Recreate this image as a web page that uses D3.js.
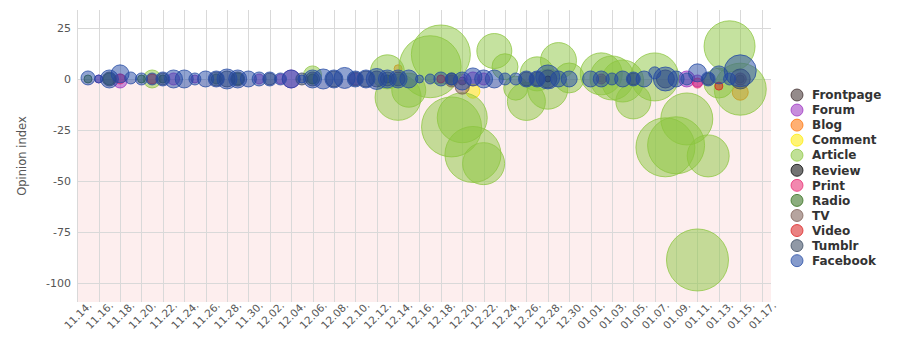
<!DOCTYPE html>
<html>
<head>
<meta charset="utf-8">
<script src="https://cdn.jsdelivr.net/npm/d3@7"></script>
<style>
  body { margin: 0; background: #fff; font-family: "DejaVu Sans", sans-serif; }
</style>
</head>
<body>
<svg id="chart" width="900" height="360"></svg>
<script>
// Channel names and their colours (legend order = drawing order)
const categories = ['Frontpage', 'Forum', 'Blog', 'Comment', 'Article', 'Review',
                    'Print', 'Radio', 'TV', 'Video', 'Tumblr', 'Facebook'];
const colors = ['#3d2b2b', '#9a2fc0', '#ff6f00', '#ffeb00', '#8cc63f', '#000000',
                '#e8266e', '#2d6a14', '#7a5a50', '#d91c1c', '#35465c', '#2248a3'];

// Each entry: [day "MM.DD", opinion index, mentions]
const frontpage = [["12.20", -1, 16], ["01.02", 0, 9], ["01.15", 0, 16]];
const forum = [["11.16", 0, 16], ["11.18", -1, 49], ["11.23", 0, 36], ["11.25", 0, 16],
               ["12.01", 0, 25], ["12.03", 0, 25], ["12.04", 0, 81], ["12.10", 0, 36],
               ["12.20", 0, 25], ["12.21", 0, 49], ["12.22", 0, 36], ["01.10", 0, 64],
               ["01.11", -1, 36]];
const blog = [["12.14", 5, 16], ["01.15", -6.5, 64]];
const comment = [["12.21", -6, 49]];
const article = [["11.21", 0, 81], ["12.06", 2, 81], ["12.13", 3.5, 289], ["12.14", -9, 529],
                 ["12.15", -5.5, 289], ["12.17", 6, 961], ["12.18", 12, 870], ["12.19", -23.5, 900],
                 ["12.20", -19, 625], ["12.21", -37, 784], ["12.22", -41.5, 441], ["12.23", 13.7, 306],
                 ["12.24", 6, 169], ["12.25", -4.5, 144], ["12.26", -11, 361], ["12.27", 2.5, 289],
                 ["12.28", -5, 400], ["12.29", 9, 324], ["12.30", 0.5, 225], ["01.02", 2.5, 441],
                 ["01.03", 0.5, 484], ["01.04", -1, 441], ["01.05", -11, 306], ["01.07", 1, 576],
                 ["01.08", -33.5, 870], ["01.09", -32.5, 812], ["01.10", -19.6, 676], ["01.11", -88.7, 961],
                 ["01.12", -37.7, 441], ["01.13", -2, 225], ["01.14", 16, 650], ["01.15", -5, 676]];
const review = [["12.28", 0, 9]];
const print = [["11.18", 0, 25], ["01.11", -2, 25]];
const radio = [["11.15", 0, 16], ["11.17", 0, 36], ["11.20", 0, 16], ["11.22", 0, 16],
               ["11.27", 0, 25], ["11.29", 0, 36], ["12.06", 0, 25], ["12.13", 0, 16]];
const tv = [["12.19", -1, 36], ["12.20", -4, 49], ["01.02", 0, 25], ["01.15", 0, 36]];
const video = [["11.21", 0, 25], ["12.18", 0, 16], ["01.13", -3.5, 16]];
const tumblr = [["11.17", 0, 49], ["11.22", 0, 36], ["11.27", 0, 49], ["11.28", 0, 64],
                ["11.29", 0, 49], ["12.02", 0, 36], ["12.05", 0, 36], ["12.06", 0, 49],
                ["12.08", 0, 64], ["12.10", 0, 49], ["12.11", 0, 64], ["12.12", 0, 64],
                ["12.13", 0, 49], ["12.14", 0, 49], ["12.19", 0, 36], ["12.26", 0, 49],
                ["12.27", 0, 49], ["12.28", 0, 81], ["01.05", 0, 36], ["01.08", 0, 81],
                ["01.12", 0, 36], ["01.15", 0, 100]];
const facebook = [["11.15", 0.5, 49], ["11.16", 0, 16], ["11.17", 0, 81], ["11.18", 2.5, 81],
                  ["11.19", 0.5, 36], ["11.20", 0, 36], ["11.21", 0, 36], ["11.22", 0, 49],
                  ["11.23", 0, 81], ["11.24", 0, 81], ["11.25", 0, 36], ["11.26", 0, 64],
                  ["11.27", 0, 64], ["11.28", 0, 100], ["11.29", 0, 81], ["11.30", 0, 64],
                  ["12.01", 0, 49], ["12.02", 0, 49], ["12.03", 0, 36], ["12.04", 0, 81],
                  ["12.05", 0, 16], ["12.06", 0, 81], ["12.07", 0, 100], ["12.08", 0, 81],
                  ["12.09", 0.5, 110], ["12.10", 0, 64], ["12.11", 0, 81], ["12.12", 0, 110],
                  ["12.13", 0, 81], ["12.14", 0, 81], ["12.15", 0, 81], ["12.16", 0, 16],
                  ["12.17", 0, 25], ["12.18", 0, 49], ["12.19", 0, 36], ["12.20", -1, 81],
                  ["12.21", 1, 81], ["12.22", 0, 81], ["12.23", 0, 81], ["12.24", 0, 36],
                  ["12.25", 0, 36], ["12.26", 0, 64], ["12.27", 0, 64], ["12.28", 1, 144],
                  ["12.29", 0, 64], ["12.30", 0, 64], ["01.01", 0, 64], ["01.02", 0, 64],
                  ["01.03", 0, 36], ["01.04", 0, 64], ["01.05", 0, 49], ["01.06", 0, 64],
                  ["01.07", 3, 36], ["01.08", 0, 144], ["01.09", 0, 64], ["01.10", 0, 36],
                  ["01.11", 3, 81], ["01.12", 0, 49], ["01.13", 2, 81], ["01.14", 0, 36],
                  ["01.15", 4, 256]];

const seriesData = [frontpage, forum, blog, comment, article, review,
                    print, radio, tv, video, tumblr, facebook];

const yTicks = [25, 0, -25, -50, -75, -100];

// "MM.DD" -> Date (Nov/Dec 2016, Jan 2017)
function parseDay(s) {
    const [m, d] = s.split('.').map(Number);
    return new Date(m >= 6 ? 2016 : 2017, m - 1, d);
}

const svg = d3.select('#chart');
const plotLeft = 77.3, plotRight = 771, plotTop = 10, plotBottom = 302;

const x = d3.scaleTime()
    .domain([new Date(2016, 10, 14), new Date(2017, 0, 17, 21)])
    .range([plotLeft, plotRight]);
const y = d3.scaleLinear()
    .domain([-109.3, 33.8])
    .range([plotBottom, plotTop]);
const r = d3.scaleSqrt().domain([0, 1000]).range([0, Math.sqrt(1000)]);

// Background: white above zero, pale pink below
svg.append('rect')
    .attr('x', plotLeft).attr('y', y(0))
    .attr('width', plotRight - plotLeft).attr('height', plotBottom - y(0))
    .attr('fill', '#fdeeee');

const xTicks = d3.timeDay.range(new Date(2016, 10, 14), new Date(2017, 0, 18), 2);

// Grid
svg.append('g')
    .selectAll('line')
    .data(yTicks)
    .join('line')
    .attr('x1', plotLeft).attr('x2', plotRight)
    .attr('y1', d => Math.round(y(d)) + 0.5).attr('y2', d => Math.round(y(d)) + 0.5)
    .attr('stroke', '#d9d9d9');

svg.append('g')
    .selectAll('line')
    .data(xTicks)
    .join('line')
    .attr('x1', d => Math.round(x(d)) + 0.5).attr('x2', d => Math.round(x(d)) + 0.5)
    .attr('y1', plotTop).attr('y2', plotBottom)
    .attr('stroke', '#d9d9d9');

// Y tick labels
svg.append('g')
    .selectAll('text')
    .data(yTicks)
    .join('text')
    .attr('x', 71)
    .attr('y', d => y(d))
    .attr('dy', '0.35em')
    .attr('text-anchor', 'end')
    .attr('font-size', 11)
    .attr('fill', '#555')
    .text(d => d);

// X tick labels (rotated)
const fmt = d3.timeFormat('%m.%d.');
svg.append('g')
    .selectAll('text')
    .data(xTicks)
    .join('text')
    .attr('transform', d => `translate(${x(d) + 12.5},${plotBottom + 1.5}) rotate(-45)`)
    .attr('text-anchor', 'end')
    .attr('dy', '0.35em')
    .attr('font-size', 10.5)
    .attr('fill', '#555')
    .text(d => fmt(d));

// Y axis title
svg.append('text')
    .attr('transform', `translate(26,${(plotTop + plotBottom) / 2}) rotate(-90)`)
    .attr('text-anchor', 'middle')
    .attr('font-size', 11.5)
    .attr('fill', '#555')
    .text('Opinion index');

// Bubbles
const plot = svg.append('g');
seriesData.forEach((series, i) => {
    plot.append('g')
        .selectAll('circle')
        .data(series)
        .join('circle')
        .attr('cx', d => x(parseDay(d[0])))
        .attr('cy', d => y(d[1]))
        .attr('r', d => r(d[2]))
        .attr('fill', colors[i])
        .attr('fill-opacity', 0.5)
        .attr('stroke', colors[i])
        .attr('stroke-opacity', 0.75)
        .attr('stroke-width', 1);
});

// Legend
const legend = svg.append('g')
    .selectAll('g')
    .data(categories)
    .join('g')
    .attr('transform', (d, i) => `translate(797,${95 + i * 15.06})`);

legend.append('circle')
    .attr('r', 6)
    .attr('fill', (d, i) => colors[i])
    .attr('fill-opacity', 0.55)
    .attr('stroke', (d, i) => colors[i])
    .attr('stroke-opacity', 0.75);

legend.append('text')
    .attr('x', 15)
    .attr('dy', '0.35em')
    .attr('font-size', 12)
    .attr('font-weight', 'bold')
    .attr('fill', '#333')
    .text(d => d);
</script>
</body>
</html>
